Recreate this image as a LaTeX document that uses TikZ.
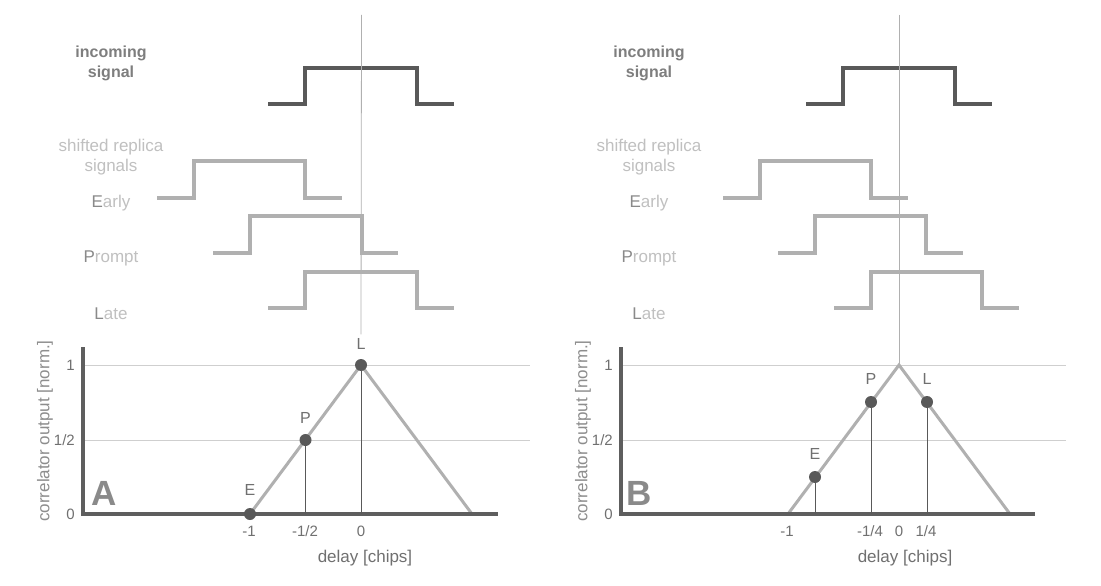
\documentclass[tikz,border=0pt]{standalone}
\usepackage{fontspec}
\setmainfont{Liberation Sans}
\usepackage{tikz}
\usetikzlibrary{positioning, calc}
\definecolor{sigcol}{HTML}{595959}
\definecolor{repcol}{HTML}{B0B0B0}
\definecolor{gridcol}{HTML}{CFCFCF}
\definecolor{axiscol}{HTML}{5E5E5E}
\definecolor{txtcol}{HTML}{707070}
\definecolor{lighttxt}{HTML}{C0C0C0}
\definecolor{initcol}{HTML}{8A8A8A}

\begin{document}
\begin{tikzpicture}[
  x=1pt, y=-1pt,
  every node/.style={font=\fontsize{17}{20}\selectfont, inner sep=0pt, text=txtcol},
  caption/.style={align=center, font=\fontsize{16}{20}\selectfont\bfseries, text=txtcol!90},
  replab/.style={font=\fontsize{17}{20}\selectfont, text=lighttxt},
  sig/.style={line width=4pt, sigcol},
  rep/.style={line width=4pt, repcol},
  zero/.style={line width=0.8pt, repcol},
  grid/.style={line width=1pt, gridcol},
  axis/.style={line width=4pt, axiscol},
  tri/.style={line width=3pt, repcol},
  drop/.style={line width=1pt, sigcol},
  dot/.style={circle, fill=sigcol, minimum size=12pt},
  tick/.style={font=\fontsize{15}{18}\selectfont},
  ptlab/.style={font=\fontsize{16}{18}\selectfont},
  ylab/.style={rotate=90, text=txtcol!80},
  panel/.style={font=\fontsize{35}{40}\selectfont\bfseries, text=initcol},
]

\fill[white] (0,0) rectangle (1101,586);
\useasboundingbox (0,0) rectangle (1101,586);

%% Panel A: E at -1, P at -1/2, L at 0
\node[caption] (a_in)  at (111,63)  {incoming\\signal};
\node[caption, replab] (a_rep) at (111,157) {shifted replica\\signals};
\node[replab] (a_early)  at (111,203) {\textcolor{initcol}{E}arly};
\node[replab] (a_prompt) at (111,258) {\textcolor{initcol}{P}rompt};
\node[replab] (a_late)   at (111,314) {\textcolor{initcol}{L}ate};

\draw[sig] (268,104) -- ++(37,0) -- ++(0,-36) -- ++(112,0) -- ++(0,36) -- ++(37,0);
\draw[rep] (157,198) -- ++(37,0) -- ++(0,-37) -- ++(111,0) -- ++(0,37) -- ++(37,0);
\draw[rep] (213,253) -- ++(37,0) -- ++(0,-37) -- ++(112,0) -- ++(0,37) -- ++(36,0);
\draw[rep] (268,308) -- ++(37,0) -- ++(0,-36) -- ++(112,0) -- ++(0,36) -- ++(37,0);

\coordinate (a_o)  at (83,514);
\coordinate (a_pk) at (361,365);
\draw[grid] (83,365) -- (530,365);
\draw[grid] (83,440) -- (530,440);
\draw[tri] (250,514) -- (a_pk) -- (472,514);
\draw[axis] (83,347) -- (a_o) -- (498,514);

\node[dot] (a_E) at (250,514) {};
\node[dot] (a_P) at (305.5,440) {};
\node[dot] (a_L) at (a_pk) {};
\draw[drop] (a_P) -- (a_P |- a_o);
\draw[drop] (a_L) -- (a_L |- a_o);

\node[ptlab, above=12pt of a_E] (a_Elab) {E};
\node[ptlab, above=10pt of a_P] (a_Plab) {P};
\node[ptlab, above=9pt of a_L] (a_Llab) {L};
\coordinate (a_top) at (361.5,15);
\draw[zero] (a_top) -- ($(a_Llab.north)+(0,-4)$);

\node[tick] (a_tm1) at (249,531) {-1};
\node[tick] (a_tmh) at (305,531) {-1/2};
\node[tick] (a_t0)  at (361,531) {0};
\node (a_xlab) at (365,558) {delay [chips]};
\node[tick, anchor=east] (a_y1) at (75,365) {1};
\node[tick, anchor=east] (a_yh) at (75,440) {1/2};
\node[tick, anchor=east] (a_y0) at (75,514) {0};
\node[ylab] (a_ylab) at (45,431) {correlator output [norm.]};
\node[panel] (a_name) at (104,493) {A};

%% Panel B: E at -3/4, P at -1/4, L at 1/4
\begin{scope}[xshift=538pt]
\node[caption] (b_in)  at (111,63)  {incoming\\signal};
\node[caption, replab] (b_rep) at (111,157) {shifted replica\\signals};
\node[replab] (b_early)  at (111,203) {\textcolor{initcol}{E}arly};
\node[replab] (b_prompt) at (111,258) {\textcolor{initcol}{P}rompt};
\node[replab] (b_late)   at (111,314) {\textcolor{initcol}{L}ate};

\draw[sig] (268,104) -- ++(37,0) -- ++(0,-36) -- ++(112,0) -- ++(0,36) -- ++(37,0);
\draw[rep] (185,198) -- ++(37,0) -- ++(0,-37) -- ++(111,0) -- ++(0,37) -- ++(37,0);
\draw[rep] (240,253) -- ++(37,0) -- ++(0,-37) -- ++(111,0) -- ++(0,37) -- ++(37,0);
\draw[rep] (296,308) -- ++(37,0) -- ++(0,-36) -- ++(111,0) -- ++(0,36) -- ++(37,0);

\coordinate (b_o)  at (83,514);
\coordinate (b_pk) at (361,365);
\draw[grid] (83,365) -- (528,365);
\draw[grid] (83,440) -- (528,440);
\draw[tri] (250,514) -- (b_pk) -- (472,514);
\draw[axis] (83,347) -- (b_o) -- (497,514);

\node[dot] (b_E) at (277,477) {};
\node[dot] (b_P) at (333,402) {};
\node[dot] (b_L) at (389,402) {};
\draw[drop] (b_E) -- (b_E |- b_o);
\draw[drop] (b_P) -- (b_P |- b_o);
\draw[drop] (b_L) -- (b_L |- b_o);

\node[ptlab, above=11pt of b_E] (b_Elab) {E};
\node[ptlab, above=11pt of b_P] (b_Plab) {P};
\node[ptlab, above=11pt of b_L] (b_Llab) {L};
\coordinate (b_top) at (361,15);
\draw[zero] (b_top) -- (b_pk);

\node[tick] (b_tm1) at (249,531) {-1};
\node[tick] (b_tmq) at (332,531) {-1/4};
\node[tick] (b_t0)  at (361,531) {0};
\node[tick] (b_tq)  at (388,531) {1/4};
\node (b_xlab) at (367,558) {delay [chips]};
\node[tick, anchor=east] (b_y1) at (75,365) {1};
\node[tick, anchor=east] (b_yh) at (75,440) {1/2};
\node[tick, anchor=east] (b_y0) at (75,514) {0};
\node[ylab] (b_ylab) at (45,431) {correlator output [norm.]};
\node[panel] (b_name) at (101,493) {B};
\end{scope}

\end{tikzpicture}
\end{document}
